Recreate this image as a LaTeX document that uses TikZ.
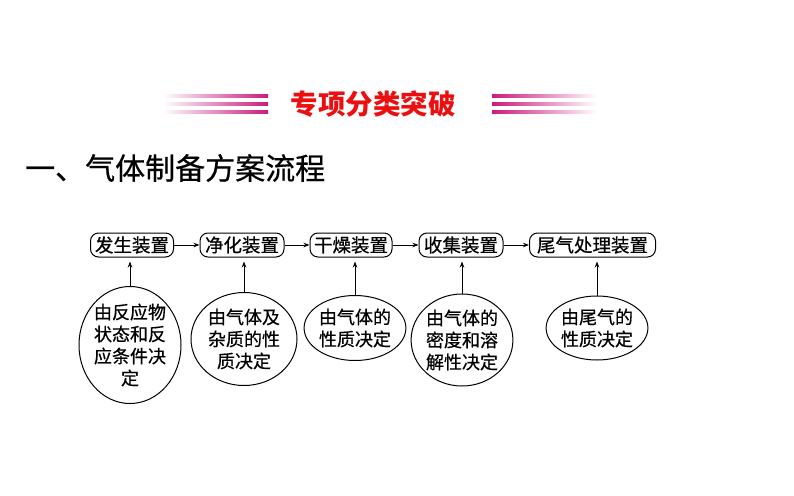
\documentclass[tikz,border=0pt]{standalone}
\usepackage{fontspec}
\setmainfont{Noto Sans CJK SC}
\newfontfamily\cjkm{Noto Sans CJK SC}[FakeBold=0.6]
\usetikzlibrary{shapes.geometric,arrows.meta}
\definecolor{mag}{RGB}{205,25,125}
\definecolor{hdred}{RGB}{235,15,15}
\tikzset{
  stagebox/.style={draw,rounded corners=8pt,line width=1pt,minimum height=24pt,inner sep=0pt,font=\cjkm\fontsize{18.5}{18.5}\selectfont},
  causeell/.style={draw,ellipse,line width=1pt,inner sep=0pt,align=center,font=\cjkm\fontsize{18}{22}\selectfont},
  flow/.style={line width=0.9pt,-{Stealth[length=6pt,width=4.5pt]}}
}
\begin{document}
\begin{tikzpicture}[x=1pt,y=-1pt]
\useasboundingbox (0,0) rectangle (794,495);
% header lines
\foreach \yy in {96,104,112}{
  \shade[left color=white,right color=mag] (163,\yy-1.5) rectangle (268,\yy+1.5);
  \shade[left color=mag,right color=white] (492,\yy-1.5) rectangle (597,\yy+1.5);
}
\node[font=\fontsize{27.5}{27.5}\selectfont\bfseries,text=hdred] (hd) at (373,104) {专项分类突破};
\node[font=\cjkm\fontsize{30}{30}\selectfont,anchor=west,inner sep=0pt] (ttl) at (25,168) {一、气体制备方案流程};
% stage boxes
\node[stagebox,minimum width=83pt] (b1) at (132,245) {发生装置};
\node[stagebox,minimum width=84pt] (b2) at (242,245) {净化装置};
\node[stagebox,minimum width=82pt] (b3) at (351,245) {干燥装置};
\node[stagebox,minimum width=84pt] (b4) at (461,245) {收集装置};
\node[stagebox,minimum width=126pt] (b5) at (592.5,245) {尾气处理装置};
\draw[flow] (b1) -- (b2);
\draw[flow] (b2) -- (b3);
\draw[flow] (b3) -- (b4);
\draw[flow] (b4) -- (b5);
% cause ellipses
\node[causeell,minimum width=102pt,minimum height=105pt] (e1) at (130,345) {由反应物\\状态和反\\应条件决\\定};
\node[causeell,minimum width=106pt,minimum height=93pt] (e2) at (244,339) {由气体及\\杂质的性\\质决定};
\node[causeell,minimum width=100pt,minimum height=65pt] (e3) at (355,328) {由气体的\\性质决定};
\node[causeell,minimum width=98pt,minimum height=92pt] (e4) at (462,340) {由气体的\\密度和溶\\解性决定};
\node[causeell,minimum width=100pt,minimum height=64pt] (e5) at (597,328) {由尾气的\\性质决定};
\draw[flow,shorten >=4pt] (e1.north) -- (e1.north |- b1.south);
\draw[flow,shorten >=4pt] (e2.north) -- (e2.north |- b2.south);
\draw[flow,shorten >=4pt] (e3.north) -- (e3.north |- b3.south);
\draw[flow,shorten >=4pt] (e4.north) -- (e4.north |- b4.south);
\draw[flow,shorten >=4pt] (e5.north) -- (e5.north |- b5.south);
\end{tikzpicture}
\end{document}
